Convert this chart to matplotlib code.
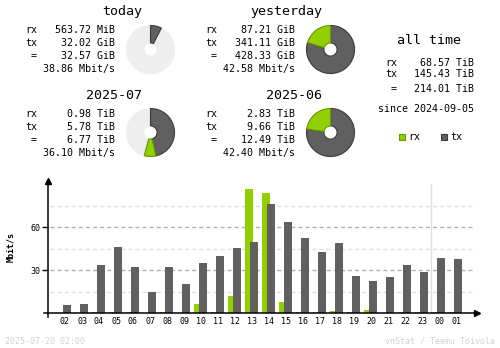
import matplotlib
matplotlib.use("Agg")
import matplotlib.pyplot as plt

plt.rcParams["lines.scale_dashes"] = False

# ---- summary data ----
periods = ["today", "yesterday", "2025-07", "2025-06"]
rx_vals = [563.72, 87.21, 0.98, 2.83]
rx_units = ["MiB", "GiB", "TiB", "TiB"]
tx_vals = [32.02, 341.11, 5.78, 9.66]
tx_units = ["GiB", "GiB", "TiB", "TiB"]
tot_vals = [32.57, 428.33, 6.77, 12.49]
tot_units = ["GiB", "GiB", "TiB", "TiB"]
rates = [38.86, 42.58, 36.10, 42.40]

all_rx, all_tx, all_tot = 68.57, 145.43, 214.01
since = "2024-09-05"
stamp = "2025-07-20 02:00"

# ---- hourly data (Mbit/s) ----
hours = ["02", "03", "04", "05", "06", "07", "08", "09", "10", "11", "12", "13",
         "14", "15", "16", "17", "18", "19", "20", "21", "22", "23", "00", "01"]
hour_rx = [0, 0, 0.7, 0.7, 0.7, 0, 0.7, 0, 6.5, 0.7, 12.1, 86.7,
           83.9, 7.9, 0.7, 0.7, 1.6, 0.7, 2.3, 0, 0.7, 0.7, 0.7, 0.7]
hour_tx = [5.8, 6.5, 33.7, 46.3, 32.3, 14.9, 32.3, 20.5, 35.1, 40.0, 45.6, 49.8,
           76.3, 63.7, 52.5, 42.8, 49.0, 26.0, 22.5, 25.3, 33.7, 28.8, 38.6, 37.9]

C_RX = "#92CF00"
C_RXD = "#6A9600"
C_TX = "#606060"
C_TXD = "#3C3C3C"
C_EMPTY = "#EEEEEE"
C_LINE = "#B0B0B0"
C_LINEL = "#DEDEDE"
C_FOOT = "#D2D2D2"

MONO = "DejaVu Sans Mono"
FS_SMALL = 7.2
FS_TITLE = 9.6
FS_TINY = 6.0

W, H = 500, 348
fig = plt.figure(figsize=(W / 100, H / 100), dpi=100)
fig.patch.set_facecolor("white")

bg = fig.add_axes([0, 0, 1, 1])
bg.set_xlim(0, W)
bg.set_ylim(H, 0)
bg.axis("off")

to_gib = {"MiB": 1 / 1024, "GiB": 1.0, "TiB": 1024.0}


def txt(x, y, s, size=FS_SMALL, ha="left", color="black", **kw):
    bg.text(x, y, s, fontsize=size, family=MONO, ha=ha, va="baseline",
            color=color, **kw)


def donut(cx, cy, fracs, colors, edges):
    r = 24.5
    ax = fig.add_axes([(cx - r) / W, (H - cy - r) / H, 2 * r / W, 2 * r / H])
    ax.pie(fracs, colors=colors, startangle=90, counterclock=False, radius=1,
           normalize=False,
           wedgeprops=dict(width=1 - 6.7 / 24.5, linewidth=0.8))
    for w, ec in zip(ax.patches, edges):
        w.set_edgecolor(ec)
        # slices thinner than a degree are not drawn
        if abs(w.theta2 - w.theta1) < 1.0:
            w.set_visible(False)
    ax.set_xlim(-1.02, 1.02)
    ax.set_ylim(-1.02, 1.02)
    ax.set_aspect("equal")
    ax.axis("off")


# summary blocks: (title right edge, title baseline, label x, value right edge, row baselines, donut centre)
blocks = [
    (142, 15, 25, 115, [33.3, 46, 59, 72], (150.5, 49.5)),
    (322, 15, 205, 295, [33.3, 46, 59, 72], (330.5, 49.5)),
    (142, 99, 25, 115, [117.3, 130, 143, 156], (150.5, 132.5)),
    (322, 99, 205, 295, [117.3, 130, 143, 156], (330.5, 132.5)),
]

for k, (tr, tb, lx, vr, rows, (cx, cy)) in enumerate(blocks):
    txt(tr, tb, periods[k], size=FS_TITLE, ha="right")
    txt(lx, rows[0], "rx")
    txt(lx, rows[1], "tx")
    txt(lx + 9, rows[2], "=", ha="center")
    txt(vr, rows[0], f"{rx_vals[k]:.2f} {rx_units[k]}", ha="right")
    txt(vr, rows[1], f"{tx_vals[k]:.2f} {tx_units[k]}", ha="right")
    txt(vr, rows[2], f"{tot_vals[k]:.2f} {tot_units[k]}", ha="right")
    txt(vr, rows[3], f"{rates[k]:.2f} Mbit/s", ha="right")

# donuts: current period compared with previous one
for cur, prev in [(0, 1), (2, 3)]:
    tc = tot_vals[cur] * to_gib[tot_units[cur]]
    tp = tot_vals[prev] * to_gib[tot_units[prev]]
    top = max(tc, tp)
    for k, t in [(cur, tc), (prev, tp)]:
        rx = rx_vals[k] * to_gib[rx_units[k]]
        tx = tx_vals[k] * to_gib[tx_units[k]]
        fill = t / top
        fr_tx = tx / (rx + tx) * fill
        fr_rx = rx / (rx + tx) * fill
        rest = max(0.0, 1 - fr_tx - fr_rx)
        cx, cy = blocks[k][5]
        if rest > 1e-6:
            donut(cx, cy, [1.0], [C_EMPTY], [C_EMPTY])
        # filled part drawn on top of the empty ring
        donut(cx, cy, [fr_tx, fr_rx], [C_TX, C_RX], [C_TXD, C_RXD])

# all time block
txt(429, 44.3, "all time", size=FS_TITLE, ha="center")
txt(385, 66.3, "rx")
txt(385, 77.3, "tx")
txt(393.5, 92, "=", ha="center")
txt(474, 66.3, f"{all_rx:.2f} TiB", ha="right")
txt(474, 77.3, f"{all_tx:.2f} TiB", ha="right")
txt(474, 92, f"{all_tot:.2f} TiB", ha="right")
txt(474, 112.5, f"since {since}", ha="right")

# legend
for sx, col, ecol, lab in [(399, C_RX, C_RXD, "rx"), (440.5, C_TX, C_TXD, "tx")]:
    bg.add_patch(plt.Rectangle((sx, 134), 6, 6, facecolor=col, edgecolor=ecol,
                               linewidth=0.8))
    txt(sx + 9.5, 140.5, lab)

# footer
txt(5, 343.5, stamp, size=FS_TINY, color=C_FOOT)
txt(495, 343.5, "vnStat / Teemu Toivola", size=FS_TINY, ha="right", color=C_FOOT)

# ---- hourly chart ----
PX0, PX_STEP = 65, 17           # centre of first hour group, group spacing
BASE, PX_PER = 313.3, 43 / 30   # baseline pixel, pixels per Mbit/s
left_px, right_px, top_px = 48, 477, 181
xmin = (left_px - PX0) / PX_STEP
xmax = (right_px - PX0) / PX_STEP
ymax = (BASE - top_px) / PX_PER

ax = fig.add_axes([left_px / W, (H - BASE) / H, (right_px - left_px) / W,
                   (BASE - top_px) / H])
ax.set_xlim(xmin, xmax)
ax.set_ylim(0, ymax)
ax.patch.set_alpha(0)
for s in ax.spines.values():
    s.set_visible(False)

gx0 = (50 - PX0) / PX_STEP
gx1 = (473 - PX0) / PX_STEP
for v in [15, 45, 75]:
    ax.plot([gx0, gx1], [v, v], color=C_LINEL, lw=1, ls=(0, (2.9, 2.2)), zorder=1)
for v in [30, 60]:
    ax.plot([gx0, gx1], [v, v], color=C_LINE, lw=1, ls=(0, (2.9, 2.2)), zorder=1)

# day boundary
ax.plot([21.5, 21.5], [0, 90.2], color=C_LINEL, lw=1, zorder=1)

xs = list(range(len(hours)))
bw = 8 / PX_STEP
ax.bar([x - 3 / PX_STEP for x in xs], hour_rx, width=bw, color=C_RX,
       linewidth=0, zorder=2)
ax.bar([x + 2 / PX_STEP for x in xs], hour_tx, width=bw, color=C_TX,
       linewidth=0, zorder=3)

# axes with arrow heads
ax.plot([(44 - PX0) / PX_STEP, xmax], [0, 0], color="black", lw=1.1,
        clip_on=False, zorder=4)
ax.plot([xmin, xmin], [-(317 - BASE) / PX_PER, ymax], color="black", lw=1.1,
        clip_on=False, zorder=4)
ax.plot([xmax], [0], marker=">", color="black", ms=4, clip_on=False, zorder=4)
ax.plot([xmin], [ymax], marker="^", color="black", ms=4, clip_on=False, zorder=4)

ax.set_xticks(xs)
ax.set_xticklabels(hours, family=MONO, fontsize=FS_TINY)
ax.tick_params(axis="x", length=0, pad=3)
ax.set_yticks([30, 60])
ax.set_yticklabels(["30", "60"], family=MONO, fontsize=FS_TINY)
ax.tick_params(axis="y", length=4, width=1, pad=1.5)
ax.set_ylabel("Mbit/s", family=MONO, fontsize=FS_TINY, fontweight="bold")
ax.yaxis.set_label_coords(-(48 - 15) / (right_px - left_px), 0.5)

fig.savefig("out.png", dpi=100, facecolor="white")
